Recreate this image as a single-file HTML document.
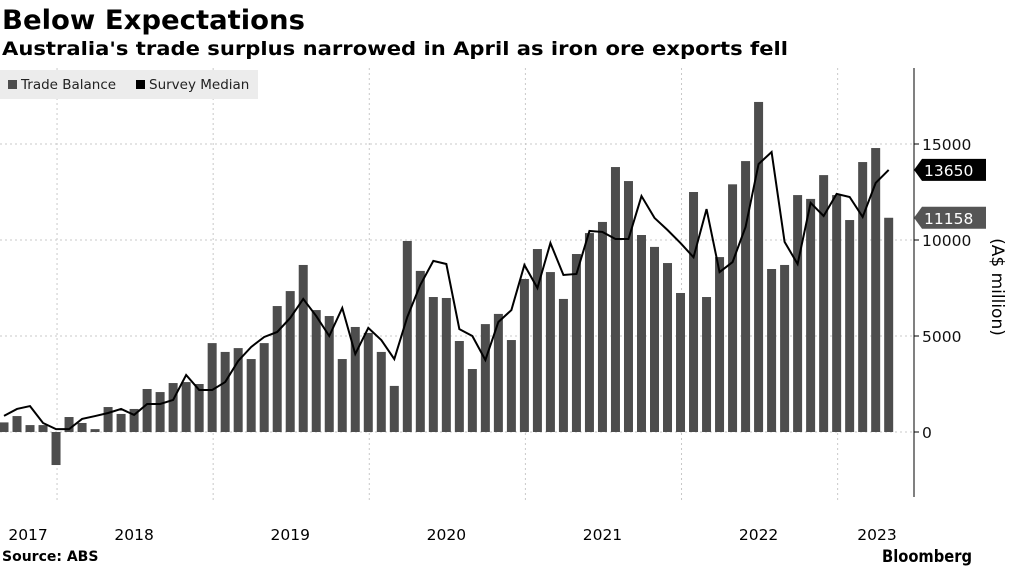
<!DOCTYPE html>
<html><head><meta charset="utf-8"><style>
body{margin:0;background:#fff;width:1010px;height:566px;overflow:hidden;font-family:"DejaVu Sans","Liberation Sans",sans-serif}
svg text{font-family:"DejaVu Sans","Liberation Sans",sans-serif}
</style></head><body>
<svg id="c" width="1010" height="566" viewBox="0 0 1010 566" xmlns="http://www.w3.org/2000/svg">
<text x="2" y="29" font-size="27" font-weight="bold" fill="#000" textLength="303" lengthAdjust="spacingAndGlyphs">Below Expectations</text>
<text x="2" y="55" font-size="19" font-weight="bold" fill="#000" textLength="786" lengthAdjust="spacingAndGlyphs">Australia's trade surplus narrowed in April as iron ore exports fell</text>
<g id="grid"></g><g id="bars"></g><g id="line"></g><g id="axis"></g>
<g>
<rect x="0" y="70" width="258" height="29" fill="#ececec"/>
<rect x="8" y="80" width="9" height="9" fill="#4d4d4d"/>
<text x="21" y="89" font-size="13.5" fill="#222">Trade Balance</text>
<rect x="136" y="80" width="9" height="9" fill="#000"/>
<text x="149" y="89" font-size="13.5" fill="#222">Survey Median</text>
</g>
<text x="2" y="561" font-size="14" font-weight="bold">Source: ABS</text>
<text x="882" y="562" font-size="17" font-weight="bold" textLength="90" lengthAdjust="spacingAndGlyphs">Bloomberg</text>
<text transform="translate(992,287) rotate(90)" font-size="17" text-anchor="middle">(A$ million)</text>
</svg>
<script>
const tradeBalance=[500,830,360,360,-1720,780,470,150,1300,940,1200,2240,2080,2550,2600,2500,4630,4170,4370,3800,4630,6560,7340,8700,6350,6040,3800,5470,5160,4170,2400,9950,8390,7030,6980,4740,3280,5620,6150,4790,7970,9530,8330,6930,9270,10360,10940,13800,13070,10260,9640,8800,7240,12500,7030,9110,12900,14110,17190,8490,8700,12340,12140,13380,12340,11040,14060,14790,11158];
const surveyMedian=[840,1200,1350,470,150,150,680,830,990,1200,890,1460,1460,1670,2970,2190,2190,2600,3700,4430,4950,5210,5940,6930,6040,5000,6460,4060,5420,4790,3800,5990,7660,8910,8750,5360,5000,3750,5730,6350,8700,7500,9840,8180,8230,10470,10420,10050,10050,12290,11150,10520,9840,9100,11610,8330,8850,10680,13960,14580,9900,8750,11930,11250,12400,12240,11200,12970,13650];
const yTicks=[0,5000,10000,15000];
const yearLabels=["2017","2018","2019","2020","2021","2022","2023"];
const yearLabelIdx=[1.85,10,22,34,46,58,67.1];
const yearGridIdx=[4,16,28,40,52,64];
const NS="http://www.w3.org/2000/svg";
const x=i=>4+13.01*i;
const y=v=>432-v*0.0192;
function mk(t,a,p){const e=document.createElementNS(NS,t);for(const k in a)e.setAttribute(k,a[k]);document.getElementById(p).appendChild(e);return e;}
yTicks.forEach(v=>{if(v>0){const g=mk('line',{x1:0,x2:914,y1:y(v),y2:y(v),stroke:'#c8c8c8','stroke-dasharray':'2,3'},'grid');

}
const t=mk('text',{x:922,y:y(v)+6,'font-size':15.5,fill:'#111'},'axis');t.textContent=v;


mk('line',{x1:914,x2:919,y1:y(v),y2:y(v),stroke:'#000'},'axis');});
yearGridIdx.forEach(i=>{const g=mk('line',{x1:x(i)+1,x2:x(i)+1,y1:68,y2:500,stroke:'#c8c8c8','stroke-dasharray':'2,3'},'grid');

});
mk('line',{x1:0,x2:914,y1:y(0),y2:y(0),stroke:'#c8c8c8','stroke-dasharray':'2,3'},'grid');
yearLabels.forEach((l,k)=>{const t=mk('text',{x:x(yearLabelIdx[k]),y:540,'font-size':15.5,'text-anchor':'middle'},'axis');t.textContent=l;

});
const ax=mk('line',{x1:914,x2:914,y1:68,y2:497,stroke:'#000'},'axis');


tradeBalance.forEach((v,i)=>{const r=mk('rect',{x:x(i)-4.5,width:9,y:Math.min(y(v),y(0)),height:Math.abs(y(v)-y(0)),fill:'#4d4d4d'},'bars');

});
const p=mk('polyline',{points:surveyMedian.map((v,i)=>x(i)+','+y(v)).join(' '),fill:'none',stroke:'#000','stroke-width':2},'line');


function callout(v,bg,name){const yy=y(v);
const g=mk('path',{d:`M914 ${yy} L922 ${yy-11} L986 ${yy-11} L986 ${yy+11} L922 ${yy+11} Z`,fill:bg},'axis');


const t=mk('text',{x:924,y:yy+6,'font-size':15.5,fill:'#fff'},'axis');t.textContent=v;

}
callout(surveyMedian[surveyMedian.length-1],'#000','survey-median');
callout(tradeBalance[tradeBalance.length-1],'#555','trade-balance');
</script>
</body></html>
